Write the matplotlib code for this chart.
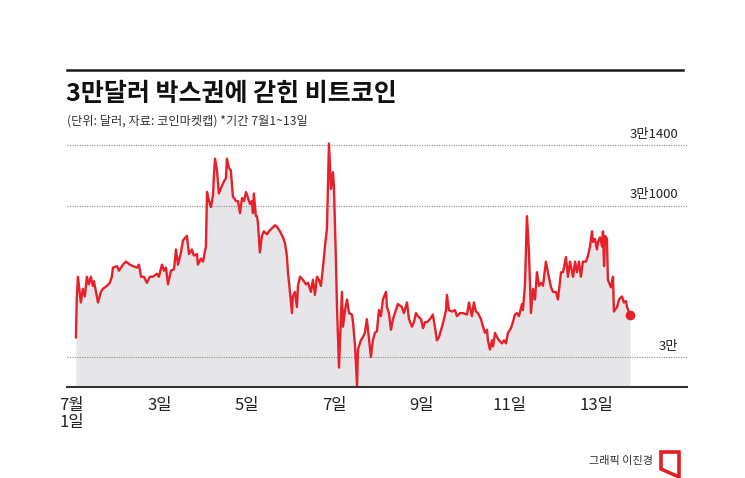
import matplotlib.pyplot as plt
from matplotlib.patches import Polygon

plt.rcParams['font.family'] = ['Noto Sans CJK KR', 'DejaVu Sans']

# hours since 7월 1일 00:00, price in USD
hours = [2.2, 2.7, 3.3, 4.9, 6.0, 7.1, 8.2, 9.3, 10.4, 11.5, 12.1, 14.3, 15.9, 17.0,
         19.2, 20.8, 21.9, 22.5, 24.7, 25.8, 28.0, 29.6, 31.8, 33.5, 35.7, 36.8, 37.9,
         39.5, 41.1, 42.8, 44.4, 46.6, 47.7, 49.4, 50.5, 51.6, 52.7, 54.3, 56.0, 57.1,
         58.2, 59.8, 60.9, 63.1, 64.2, 65.8, 66.9, 68.6, 69.1, 70.8, 71.9, 73.5, 74.1,
         75.2, 76.3, 77.4, 77.9, 78.5, 79.6, 80.6, 82.3, 83.4, 84.5, 85.0, 86.1, 87.2,
         88.3, 90.0, 91.1, 92.2, 93.3, 94.4, 95.5, 96.6, 97.7, 98.7, 99.3, 99.8, 100.9,
         101.5, 102.0, 103.1, 104.2, 105.3, 107.0, 108.1, 109.7, 111.4, 112.5, 114.1,
         115.8, 116.9, 117.9, 118.5, 119.6, 120.7, 121.2, 122.3, 123.4, 124.0, 125.1,
         126.7, 128.4, 129.5, 131.1, 132.2, 133.3, 134.4, 135.5, 136.6, 137.7, 138.8,
         139.9, 140.4, 141.0, 142.1, 143.2, 143.7, 144.8, 145.4, 146.5, 148.1, 148.7,
         149.8, 150.9, 152.0, 153.6, 154.2, 155.3, 156.4, 156.9, 158.5, 159.6, 160.7,
         161.8, 162.4, 164.0, 165.1, 166.2, 167.3, 168.4, 169.5, 170.6, 172.3, 172.8,
         173.9, 175.0, 176.1, 177.7, 178.8, 181.0, 182.1, 183.8, 184.9, 186.5, 187.6,
         188.7, 189.8, 191.5, 192.6, 193.7, 194.8, 196.4, 198.0, 199.1, 200.2, 201.3,
         203.0, 204.1, 205.2, 205.7, 206.8, 208.5, 210.1, 211.2, 212.9, 214.5, 216.7,
         217.8, 219.4, 220.5, 221.6, 222.7, 224.4, 225.5, 226.6, 227.7, 228.2, 229.3,
         230.4, 231.0, 232.1, 233.2, 234.3, 235.9, 237.0, 238.1, 239.2, 240.8, 241.9,
         243.0, 244.1, 245.2, 246.9, 247.4, 248.5, 249.6, 250.2, 250.7, 251.8, 252.9,
         254.0, 255.1, 256.2, 257.3, 258.4, 260.0, 261.1, 262.8, 263.9, 265.5, 266.6,
         268.3, 269.4, 271.0, 272.1, 273.2, 274.9, 276.0, 277.0, 278.1, 279.2, 280.3,
         282.0, 283.1, 284.2, 285.3, 285.8, 286.9, 288.0, 288.6, 289.7, 290.8, 291.3,
         291.9, 292.4, 293.5, 294.0, 295.7, 296.8, 297.3, 299.0, 300.1, 301.7, 302.8,
         303.9, 304.5, 306.1]
price = [30130, 30400, 30530, 30360, 30450, 30400, 30530, 30480, 30530, 30470, 30500,
         30360, 30430, 30450, 30470, 30490, 30530, 30590, 30600, 30570, 30610, 30630,
         30610, 30600, 30590, 30610, 30530, 30530, 30490, 30530, 30530, 30550, 30530,
         30610, 30570, 30590, 30480, 30570, 30580, 30710, 30610, 30690, 30770, 30800,
         30680, 30710, 30670, 30680, 30610, 30650, 30630, 30730, 31090, 31030, 30990,
         31070, 31200, 31310, 31230, 31080, 31130, 31160, 31180, 31310, 31250, 31230,
         31060, 31030, 31030, 30950, 31050, 31030, 31090, 31050, 31010, 31030, 30950,
         31080, 30930, 30930, 30890, 30690, 30800, 30830, 30810, 30830, 30850, 30870,
         30860, 30830, 30790, 30750, 30670, 30560, 30430, 30290, 30400, 30430, 30330,
         30470, 30530, 30510, 30480, 30490, 30430, 30510, 30410, 30530, 30510, 30470,
         30590, 30730, 30850, 31110, 31410, 31110, 31220, 31130, 30650, 30330, 29930,
         30430, 30200, 30310, 30380, 30290, 30280, 30230, 30070, 29810, 30050, 30110,
         30130, 30160, 30250, 30180, 30000, 30110, 30160, 30170, 30310, 30270, 30380,
         30430, 30330, 30290, 30180, 30250, 30310, 30350, 30330, 30290, 30360, 30250,
         30200, 30230, 30290, 30270, 30250, 30190, 30230, 30230, 30250, 30280, 30200,
         30110, 30130, 30200, 30250, 30310, 30410, 30310, 30300, 30310, 30270, 30290,
         30290, 30280, 30360, 30270, 30360, 30300, 30290, 30250, 30200, 30160, 30180,
         30110, 30050, 30110, 30070, 30160, 30130, 30110, 30090, 30110, 30090, 30160,
         30190, 30230, 30280, 30290, 30270, 30350, 30310, 30470, 30930, 30800, 30690,
         30290, 30450, 30380, 30560, 30470, 30490, 30470, 30630, 30560, 30460, 30430,
         30430, 30380, 30560, 30560, 30660, 30530, 30630, 30530, 30630, 30560, 30630,
         30530, 30630, 30630, 30670, 30730, 30830, 30760, 30780, 30710, 30760, 30790,
         30730, 30830, 30600, 30800, 30780, 30510, 30460, 30530, 30300, 30330, 30380,
         30400, 30360, 30370, 30330, 30280]

tick_hours = [0, 48, 96, 144, 192, 240, 288]
tick_labels = ['7월\n1일', '3일', '5일', '7일', '9일', '11일', '13일']
grid_values = [31400, 31000, 30000]
grid_labels = ['3만1400', '3만1000', '3만']

RED = '#e8202a'
y_min, y_max = 29802, 31433

fig = plt.figure(figsize=(7.45, 4.78), dpi=100)
ax = fig.add_axes([67 / 745, 1 - 387 / 478, 620 / 745, 247 / 478])

ax.fill_between(hours, price, y_min, color='#e6e6e8', lw=0, zorder=1)
for v, lab in zip(grid_values, grid_labels):
    ax.axhline(v, color='#8a8a8a', lw=0.8, ls=(0, (1, 1.2)), zorder=2)
    ax.annotate(lab, xy=(0.986, v), xycoords=('axes fraction', 'data'),
                xytext=(0, 3), textcoords='offset points',
                ha='right', va='bottom', fontsize=9.5, color='#222222')
ax.plot(hours, price, color=RED, lw=1.7, zorder=3, solid_joinstyle='round')
ax.plot(hours[-1], price[-1], 'o', color=RED, ms=6, zorder=4)

ax.set_xlim(-2.7, 337.4)
ax.set_ylim(y_min, y_max)
ax.set_yticks([])
ax.set_xticks(tick_hours)
ax.set_xticklabels(tick_labels, fontsize=12, color='#222222', linespacing=1.0)
for lbl in ax.get_xticklabels():
    lbl.set_verticalalignment('top')
ax.tick_params(axis='x', length=0, pad=7)
for side in ['top', 'left', 'right']:
    ax.spines[side].set_visible(False)
ax.spines['bottom'].set_color('#333333')
ax.spines['bottom'].set_linewidth(1.5)
ax.spines['bottom'].set_zorder(5)

# header
fig.add_artist(plt.Line2D([67 / 745, 683 / 745], [1 - 70 / 478] * 2,
                          color='#1a1a1a', lw=1.8))
fig.text(66 / 745, 1 - 94 / 478, '3만달러 박스권에 갇힌 비트코인', fontsize=18,
         fontweight='bold', color='#111111', va='center', ha='left')
fig.text(67 / 745, 1 - 121 / 478, '(단위: 달러, 자료: 코인마켓캡) *기간 7월1~13일',
         fontsize=8.8, color='#333333', va='center', ha='left')

# credit
fig.text(653 / 745, 1 - 461 / 478, '그래픽 이진경', fontsize=8, color='#333333',
         va='center', ha='right')
logo = [(661, 452), (679, 452), (679, 477), (661, 469)]
fig.add_artist(Polygon([(x / 745, 1 - y / 478) for x, y in logo], closed=True,
                       fill=False, edgecolor='#e31e26', lw=2.6,
                       transform=fig.transFigure, joinstyle='miter'))

fig.savefig('out.png', dpi=100)
